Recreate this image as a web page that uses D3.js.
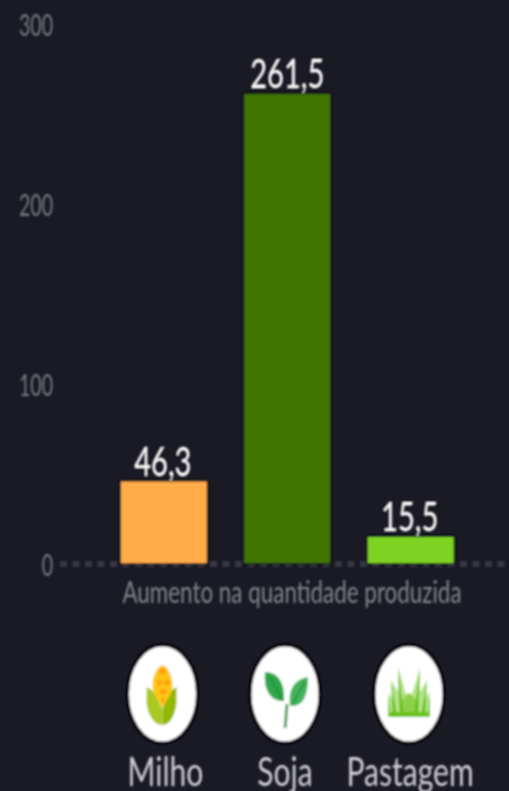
<!DOCTYPE html>
<html>
<head>
<meta charset="utf-8">
<script src="https://cdn.jsdelivr.net/npm/d3@7"></script>
<style>
    html, body { margin: 0; padding: 0; background: #191a24; overflow: hidden; }
    svg { display: block; }
</style>
</head>
<body>
<div id="chart"></div>
<script>
const categories = ["Milho", "Soja", "Pastagem"];
const values = [46.3, 261.5, 15.5];
const valueLabels = ["46,3", "261,5", "15,5"];
const barColors = ["#ffab4a", "#417505", "#7ed321"];
const yTicks = [0, 100, 200, 300];
const axisTitle = "Aumento na quantidade produzida";

const width = 509, height = 791;

const svg = d3.select("#chart").append("svg")
    .attr("width", width)
    .attr("height", height);

// the reference is a small image stretched up, so it is soft
const defs = svg.append("defs");
defs.append("filter").attr("id", "soft")
    .attr("filterUnits", "userSpaceOnUse")
    .attr("x", 0).attr("y", 0).attr("width", width).attr("height", height)
    .append("feGaussianBlur").attr("stdDeviation", "0.9 1.1");

const x = d3.scaleBand()
    .domain(categories)
    .range([120, 454.5])
    .paddingInner(0.29)
    .paddingOuter(0);

const y = d3.scaleLinear()
    .domain([0, 300])
    .range([564, 24]);

const chart = svg.append("g").attr("filter", "url(#soft)");

// axis with the dotted zero line
const yAxis = chart.append("g")
    .attr("transform", "translate(62,0)")
    .call(d3.axisLeft(y).tickValues(yTicks).tickSize(0).tickFormat(d3.format("d")));
yAxis.select(".domain").remove();
yAxis.selectAll("text")
    .attr("x", null).attr("dy", null)
    .attr("transform", "translate(-9,11) scale(0.85,1.3)")
    .attr("text-anchor", "end")
    .style("font", "400 23px Lato")
    .attr("fill", "#7b7b80");

chart.append("line")
    .attr("x1", 60).attr("x2", width)
    .attr("y1", y(0)).attr("y2", y(0))
    .attr("stroke", "#383942")
    .attr("stroke-width", 6)
    .attr("stroke-dasharray", "7,5.5");

chart.selectAll(".bar")
    .data(categories)
    .join("rect")
    .attr("class", "bar")
    .attr("x", d => x(d))
    .attr("width", x.bandwidth())
    .attr("y", (d, i) => y(values[i]))
    .attr("height", (d, i) => y(0) - y(values[i]))
    .attr("fill", (d, i) => barColors[i])
    .attr("stroke", "#07071c")
    .attr("stroke-width", 1.5);

chart.selectAll(".bar-label")
    .data(categories)
    .join("text")
    .attr("class", "bar-label")
    .attr("transform", (d, i) => `translate(${x(d) + x.bandwidth() / 2 + (i === 1 ? 0 : -1)},${y(values[i]) - 5}) scale(1.08,1.5)`)
    .attr("text-anchor", "middle")
    .style("font", "400 27px Lato")
    .attr("fill", "#ffffff")
    .attr("stroke", "#05050f")
    .attr("stroke-width", 1.2)
    .attr("paint-order", "stroke")
    .text((d, i) => valueLabels[i]);

chart.append("text")
    .attr("transform", "translate(292,603) scale(0.975,1.3)")
    .attr("text-anchor", "middle")
    .style("font", "400 23px Lato")
    .attr("fill", "#85858a")
    .text(axisTitle);

// icons, drawn in their own local coordinates around the ellipse centre
function corn(g) {
    g.append("path").attr("d", "M-16,-7 C-11,-5 -8,-2 -6,3 L0,15 L0,31 C-9,31 -15,20 -16,8 Z").attr("fill", "#a9c922");
    g.append("path").attr("d", "M14,-7 C10,-5 7,-2 5,3 L0,15 L0,31 C8,31 13,20 14,8 Z").attr("fill", "#93b806");
    g.append("path").attr("d", "M0,-29 C6,-27 10,-17 10,-8 C10,0 4,6 0,14 C-4,6 -10,0 -10,-8 C-10,-17 -6,-27 0,-29 Z").attr("fill", "#ffc414");
    g.append("path").attr("d", "M-3,-25 L3,-25 L3,-20 L-3,-20 Z M-5,-14 L-1,-14 L-1,-9 L-5,-9 Z M2,-14 L7,-14 L7,-9 L2,-9 Z M-2,-5 L3,-5 L3,0 L-2,0 Z M-1,4 L2,4 L1,10 L0,10 Z").attr("fill", "#ff9d0c");
}

function sprout(g) {
    g.append("path").attr("d", "M2,10 C1,20 1,27 0,34").attr("fill", "none").attr("stroke", "#4c9f5c").attr("stroke-width", 3);
    g.append("path").attr("d", "M-20,-22 C-6,-22 0,-10 -1,7 C-14,8 -22,-4 -20,-22 Z").attr("fill", "#2fa84a");
    g.append("path").attr("d", "M23,-17 C23,4 17,13 5,12 C3,-4 9,-15 23,-17 Z").attr("fill", "#43b45c");
    g.append("path").attr("d", "M-16,-18 L-3,5 M20,-13 L8,9").attr("stroke", "#238a3c").attr("stroke-width", 1.5);
}

function grass(g) {
    g.append("path")
        .attr("d", "M-21,23 L-20,-1 L-16,6 L-18,-14 L-11,-2 L-11,-27 L-3,0 L0,-1 L3,0 L11,-26 L11,-2 L18,-14 L16,6 L20,-2 L21,23 Z")
        .attr("fill", "#b4e388");
    g.append("path")
        .attr("d", "M-8,23 L-7,6 L0,-1 L7,6 L8,23 Z")
        .attr("fill", "#8ed14a");
    g.append("path")
        .attr("d", "M-11,-27 L-5,23 L-9,23 Z M11,-26 L9,23 L5,23 Z M-18,-14 L-12,23 L-16,23 Z M18,-14 L16,23 L12,23 Z M-21,-1 L-19,23 L-21,23 Z M21,-2 L21,23 L19,23 Z")
        .attr("fill", "#63bf0c");
    g.append("rect").attr("x", -21).attr("y", 18).attr("width", 42).attr("height", 5).attr("fill", "#6cc313");
}

const icons = [corn, sprout, grass];
const iconCenters = [162.5, 285, 409];

categories.forEach((name, i) => {
    const g = chart.append("g").attr("transform", `translate(${iconCenters[i]},694)`);
    g.append("ellipse")
        .attr("rx", 35).attr("ry", 49)
        .attr("fill", "#fff")
        .attr("stroke", "#05050a")
        .attr("stroke-width", 3);
    icons[i](g);

    chart.append("text")
        .attr("transform", `translate(${[165.5, 285, 410][i]},786) scale(0.97,1.3)`)
        .attr("text-anchor", "middle")
        .style("font", "400 31px Lato")
        .attr("fill", "#d0d0d2")
        .text(name);
});
</script>
</body>
</html>
